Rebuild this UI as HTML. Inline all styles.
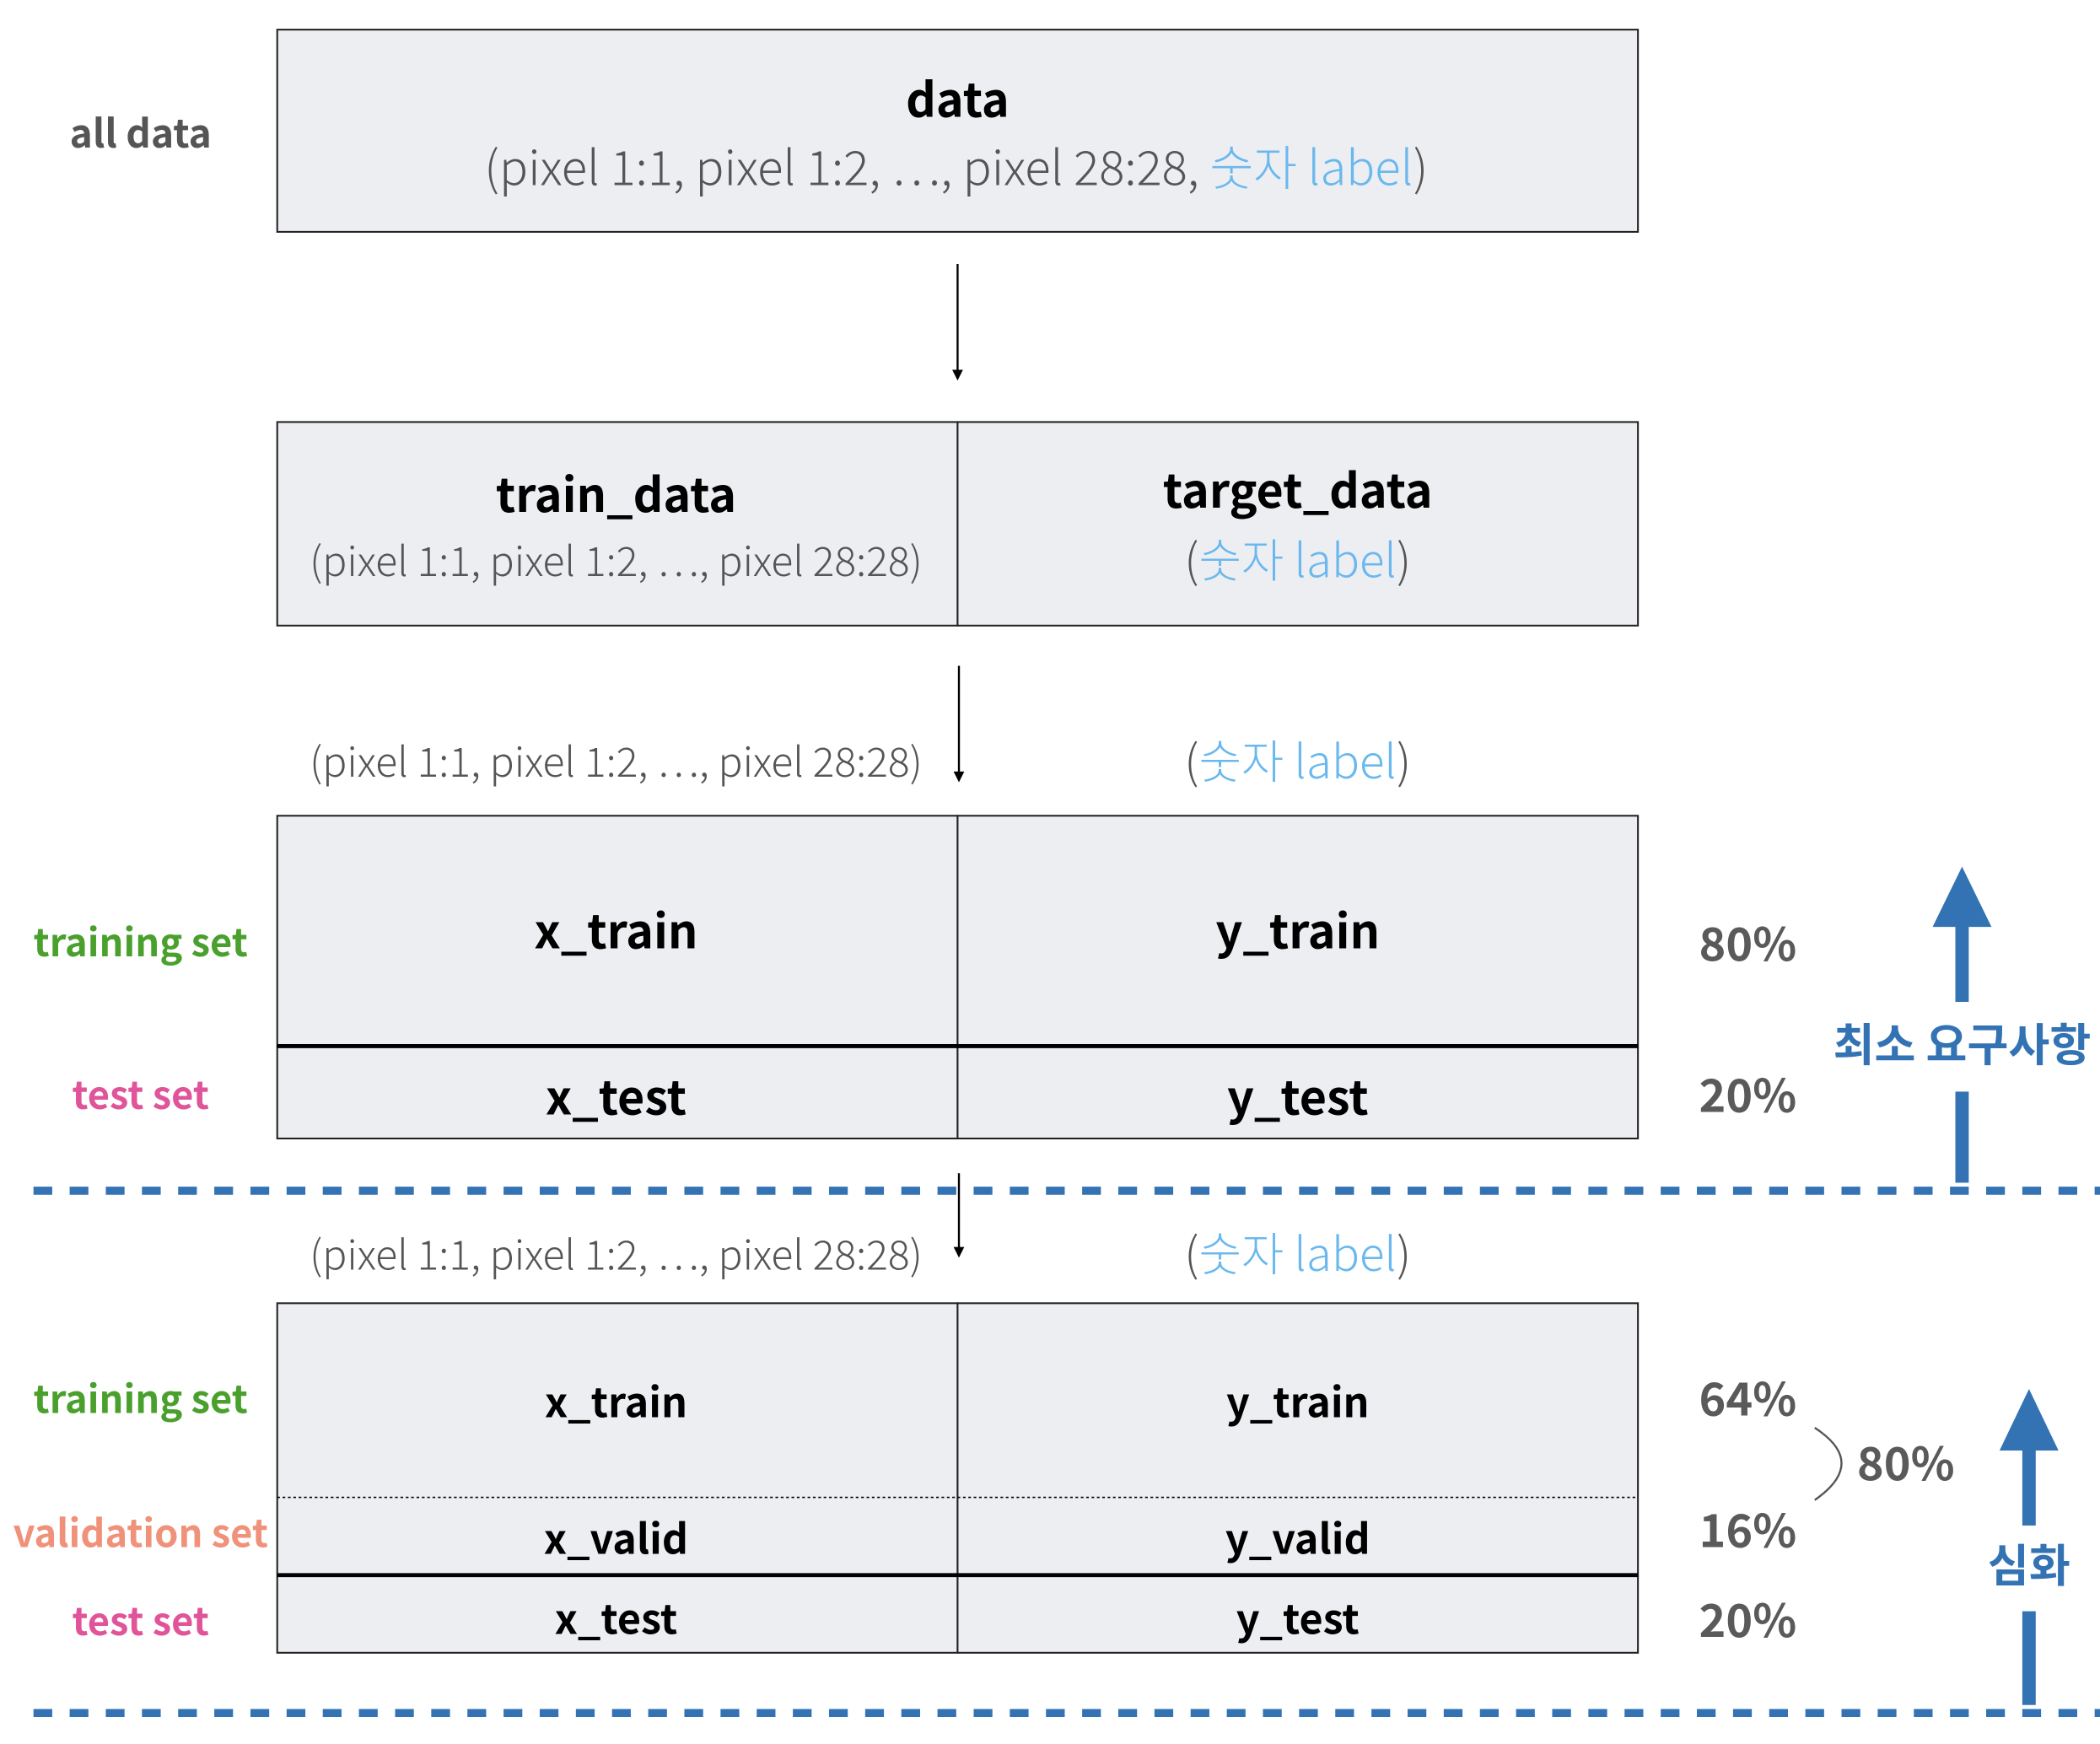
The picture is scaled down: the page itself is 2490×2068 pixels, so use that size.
<!DOCTYPE html>
<html><head><meta charset="utf-8"><style>
html,body{margin:0;padding:0;background:#fff;}
svg{display:block;}
text{font-family:"Noto Sans CJK KR","Liberation Sans",sans-serif;}
.b{font-weight:700;fill:#000;}
.sub{font-weight:300;fill:#555;}
.lb{fill:#6ab8ee;}
.pct{font-weight:700;fill:#5a5a5a;font-size:34px;}
.box{fill:#eceef2;stroke:#222;stroke-width:1.3;}
</style></head><body>
<svg width="2490" height="2068" viewBox="0 0 1568 1302">
<g>
<text x="105" y="110" text-anchor="middle" font-size="29" font-weight="700" fill="#555">all data</text>
<rect class="box" x="207" y="22" width="1016" height="151"/>
<text class="b" x="715" y="87" text-anchor="middle" font-size="35">data</text>
<text class="sub" x="714" y="138" text-anchor="middle" font-size="35.5">(pixel 1:1, pixel 1:2, …, pixel 28:28, <tspan class="lb">숫자 label</tspan>)</text>
</g>
<g>
<line x1="715" y1="197" x2="715" y2="278" stroke="#000" stroke-width="1.5"/>
<path d="M711,276 L719,276 L715,284z" fill="#000"/>
</g>
<g>
<rect class="box" x="207" y="315" width="508" height="152"/>
<rect class="box" x="715" y="315" width="508" height="152"/>
<text class="b" x="460" y="382" text-anchor="middle" font-size="35">train_data</text>
<text class="sub" x="460" y="430" text-anchor="middle" font-size="30.3">(pixel 1:1, pixel 1:2, …, pixel 28:28)</text>
<text class="b" x="969" y="379" text-anchor="middle" font-size="35">target_data</text>
<text class="sub" x="969" y="431" text-anchor="middle" font-size="34.5">(<tspan class="lb">숫자 label</tspan>)</text>
</g>
<g>
<line x1="716" y1="497" x2="716" y2="578" stroke="#000" stroke-width="1.5"/>
<path d="M712,576 L720,576 L716,584z" fill="#000"/>
</g>
<text class="sub" x="460" y="580" text-anchor="middle" font-size="30.3">(pixel 1:1, pixel 1:2, …, pixel 28:28)</text>
<text class="sub" x="969" y="581" text-anchor="middle" font-size="34.5">(<tspan class="lb">숫자 label</tspan>)</text>
<g>
<rect class="box" x="207" y="609" width="508" height="241"/>
<rect class="box" x="715" y="609" width="508" height="241"/>
<line x1="207" y1="781" x2="1223" y2="781" stroke="#000" stroke-width="3"/>
<text class="b" x="460" y="708" text-anchor="middle" font-size="35">x_train</text>
<text class="b" x="969" y="708" text-anchor="middle" font-size="35">y_train</text>
<text class="b" x="460" y="832" text-anchor="middle" font-size="35">x_test</text>
<text class="b" x="969" y="832" text-anchor="middle" font-size="35">y_test</text>
<text x="105" y="714" text-anchor="middle" font-size="28.5" font-weight="700" fill="#4aa02c">training set</text>
<text x="105" y="828" text-anchor="middle" font-size="28.5" font-weight="700" fill="#e0559a">test set</text>
<text class="pct" x="1305" y="717" text-anchor="middle">80%</text>
<text class="pct" x="1305" y="830" text-anchor="middle">20%</text>
</g>
<g fill="#3373b4">
<path d="M1443,692 L1465,647 L1487,692z"/>
<rect x="1460" y="691" width="10" height="57"/>
<rect x="1460" y="815" width="10" height="68"/>
<text x="1465" y="792" text-anchor="middle" font-size="33.5" font-weight="700" fill="#3373b4">최소 요구사항</text>
</g>
<line x1="25" y1="889" x2="1568" y2="889" stroke="#3373b4" stroke-width="6" stroke-dasharray="14 13"/>
<g>
<line x1="716" y1="876" x2="716" y2="933" stroke="#000" stroke-width="1.5"/>
<path d="M712,931 L720,931 L716,939z" fill="#000"/>
</g>
<text class="sub" x="460" y="948" text-anchor="middle" font-size="30.3">(pixel 1:1, pixel 1:2, …, pixel 28:28)</text>
<text class="sub" x="969" y="949" text-anchor="middle" font-size="34.5">(<tspan class="lb">숫자 label</tspan>)</text>
<g>
<rect class="box" x="207" y="973" width="508" height="261"/>
<rect class="box" x="715" y="973" width="508" height="261"/>
<line x1="207" y1="1118" x2="1223" y2="1118" stroke="#000" stroke-width="1" stroke-dasharray="2 2"/>
<line x1="207" y1="1176" x2="1223" y2="1176" stroke="#000" stroke-width="3"/>
<text class="b" x="460" y="1058" text-anchor="middle" font-size="30.5">x_train</text>
<text class="b" x="969" y="1058" text-anchor="middle" font-size="30.5">y_train</text>
<text class="b" x="460" y="1160" text-anchor="middle" font-size="30.5">x_valid</text>
<text class="b" x="969" y="1160" text-anchor="middle" font-size="30.5">y_valid</text>
<text class="b" x="460" y="1220" text-anchor="middle" font-size="30.5">x_test</text>
<text class="b" x="969" y="1220" text-anchor="middle" font-size="30.5">y_test</text>
<text x="105" y="1055" text-anchor="middle" font-size="28.5" font-weight="700" fill="#4aa02c">training set</text>
<text x="105" y="1155" text-anchor="middle" font-size="28.5" font-weight="700" fill="#f0917a">validation set</text>
<text x="105" y="1221" text-anchor="middle" font-size="28.5" font-weight="700" fill="#e0559a">test set</text>
<text class="pct" x="1305" y="1057" text-anchor="middle">64%</text>
<text class="pct" x="1305" y="1155" text-anchor="middle">16%</text>
<text class="pct" x="1305" y="1222" text-anchor="middle">20%</text>
<path d="M1355,1066 Q1395,1092 1355,1120" fill="none" stroke="#555" stroke-width="1.5"/>
<text class="pct" x="1423" y="1105" text-anchor="middle">80%</text>
</g>
<g fill="#3373b4">
<path d="M1493,1083 L1515,1037 L1537,1083z"/>
<rect x="1510" y="1082" width="10" height="57"/>
<rect x="1510" y="1203" width="10" height="70"/>
<text x="1515" y="1181" text-anchor="middle" font-size="33.5" font-weight="700" fill="#3373b4">심화</text>
</g>
<line x1="25" y1="1279" x2="1568" y2="1279" stroke="#3373b4" stroke-width="6" stroke-dasharray="14 13"/>
</svg>
</body></html>
